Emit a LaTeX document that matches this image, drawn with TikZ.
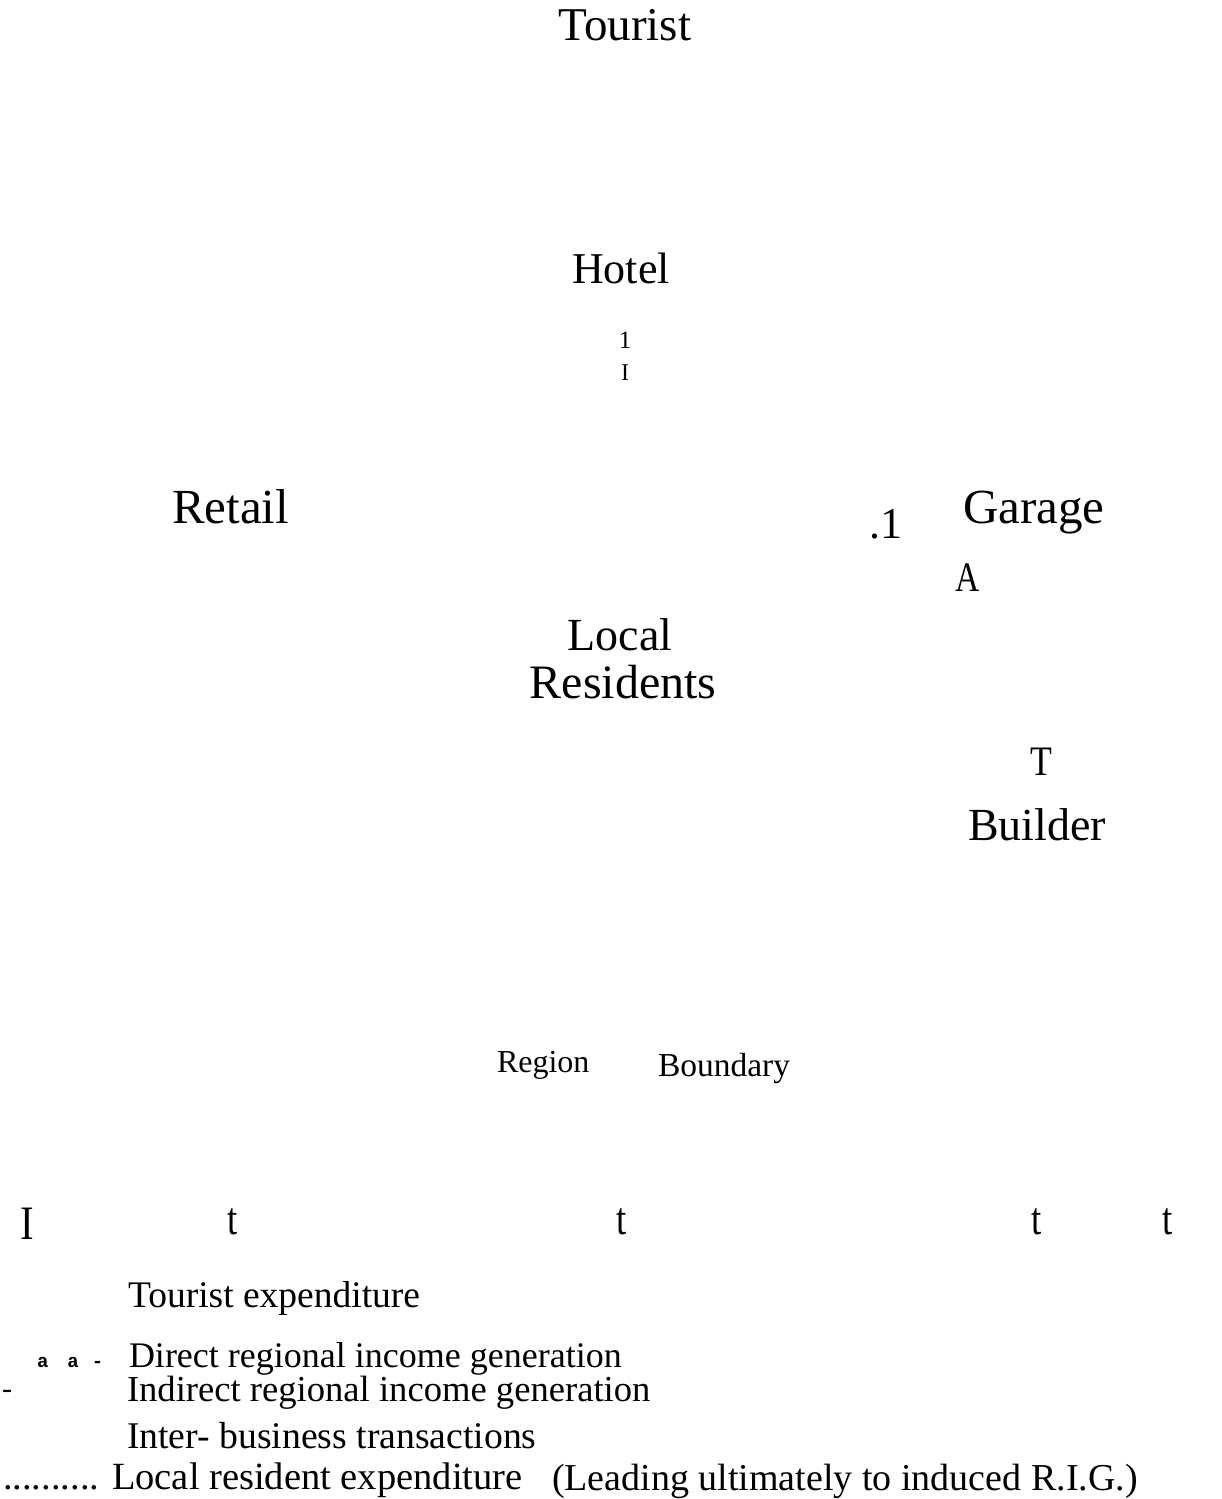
\documentclass[tikz,border=0pt]{standalone}
\usepackage{fontspec}
\usepackage{graphicx}
\setmainfont{Liberation Serif}
\newfontfamily\monof{Liberation Mono}
\tikzset{
  lbl/.style={inner sep=0pt, outer sep=0pt, font=\fontsize{#1}{#1}\selectfont},
}
\begin{document}
\begin{tikzpicture}[x=1pt,y=-1pt]
\useasboundingbox[fill=white] (0,0) rectangle (1221,1499);
% main labels
\node[lbl=47, anchor=base] (tourist) at (625,40) {Tourist};
\node[lbl=44, anchor=base] (hotel) at (621,283) {Hotel};
\node[lbl=25, anchor=base] (one) at (625,348) {1};
\node[lbl=24, anchor=base] (eye) at (625,380) {I};
\node[lbl=49, anchor=base west] (retail) at (172,523) {Retail};
\node[lbl=44, anchor=base west] (dotone) at (869,538) {.1};
\node[lbl=49, anchor=base west] (garage) at (963,523) {Garage};
\node[lbl=42, anchor=base] (aa) at (968,591) {\scalebox{0.8}[1]{A}};
\node[lbl=46, anchor=base] (local) at (620,650) {Local};
\node[lbl=48, anchor=base] (residents) at (623,698) {Residents};
\node[lbl=42, anchor=base] (tt) at (1041,775) {\scalebox{0.85}[1]{T}};
\node[lbl=46, anchor=base west] (builder) at (968,840) {Builder};
\node[lbl=32, anchor=base west] (region) at (497,1072) {Region};
\node[lbl=33.5, anchor=base west] (boundary) at (658,1076) {Boundary};
% bottom row
\node[lbl=48, anchor=base] (b1) at (27,1239) {\scalebox{0.85}[1]{I}};
\node[lbl=46, anchor=base] (b2) at (233,1234) {\scalebox{0.8}[1]{t}};
\node[lbl=46, anchor=base] (b3) at (622,1234) {\scalebox{0.8}[1]{t}};
\node[lbl=46, anchor=base] (b4) at (1037,1234) {\scalebox{0.8}[1]{t}};
\node[lbl=46, anchor=base] (b5) at (1168,1234) {\scalebox{0.8}[1]{t}};
% legend
\node[lbl=37.5, anchor=base west] (l1) at (128,1307) {Tourist expenditure};
\node[lbl=19, anchor=base west] (l2s) at (37,1367) {\monof\bfseries a\hspace{19pt}a\hspace{13pt}-};
\node[lbl=36, anchor=base west] (l2) at (129,1367) {Direct regional income generation};
\node[lbl=30, anchor=base west] (l3s) at (2,1398) {-};
\node[lbl=36.6, anchor=base west] (l3) at (127,1401) {Indirect regional income generation};
\node[lbl=37.7, anchor=base west] (l4) at (127,1448) {Inter- business transactions};
\node[lbl=38.5, anchor=base west] (l5) at (3,1489) {.......... Local resident expenditure};
\node[lbl=38, anchor=base west] (l6) at (552,1490) {(Leading ultimately to induced R.I.G.)};
\end{tikzpicture}
\end{document}
